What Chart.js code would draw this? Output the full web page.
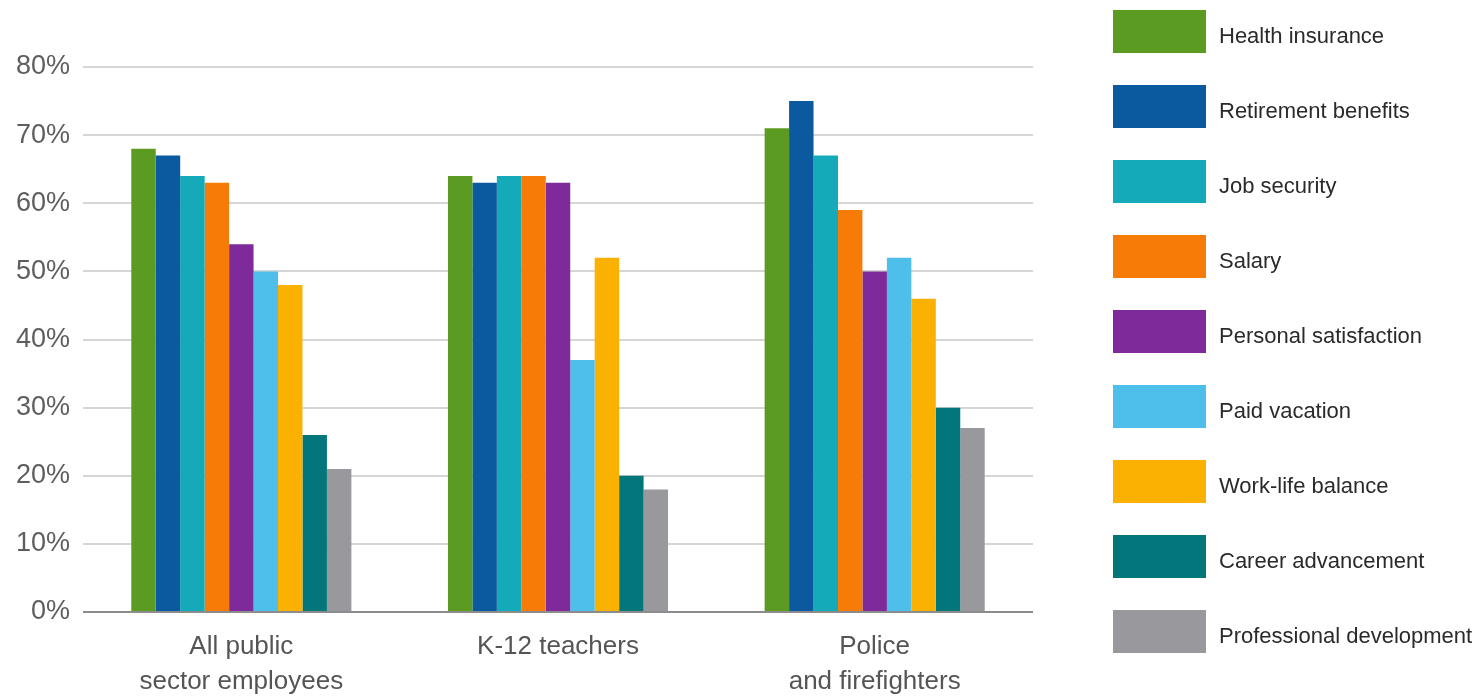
<!DOCTYPE html>
<html>
<head>
<meta charset="utf-8">
<script src="https://cdn.jsdelivr.net/npm/chart.js@4/dist/chart.umd.min.js"></script>
<style>
  html, body { margin: 0; padding: 0; background: #fff; }
  #wrap { position: relative; width: 1481px; height: 697px; }
  #legend {
    position: absolute; left: 1113px; top: 10px;
    font-family: "Liberation Sans", Arial, sans-serif; font-size: 22px; color: #2a2a2a;
  }
  .item { display: flex; align-items: center; height: 43px; margin-bottom: 32px; }
  .swatch { width: 93px; height: 43px; margin-right: 13px; flex: none; }
  .item span { position: relative; top: 4px; white-space: nowrap; }
</style>
</head>
<body>
<div id="wrap">
  <canvas id="myChart" width="1481" height="697"></canvas>
  <div id="legend"></div>
</div>
<script>
// groups on the x axis
const groups = [
  ['All public', 'sector employees'],
  ['K-12 teachers'],
  ['Police', 'and firefighters']
];

// one series per benefit, values in percent
const seriesNames = [
  'Health insurance', 'Retirement benefits', 'Job security', 'Salary',
  'Personal satisfaction', 'Paid vacation', 'Work-life balance',
  'Career advancement', 'Professional development'
];
const seriesColors = [
  '#5b9b21', '#0b5aa0', '#14aab9', '#f77c07', '#7e2a9b',
  '#4ebfea', '#fbb102', '#02767b', '#99989d'
];
const healthInsurance = [68, 64, 71];
const retirementBenefits = [67, 63, 75];
const jobSecurity = [64, 64, 67];
const salary = [63, 64, 59];
const personalSatisfaction = [54, 63, 50];
const paidVacation = [50, 37, 52];
const workLifeBalance = [48, 52, 46];
const careerAdvancement = [26, 20, 30];
const professionalDevelopment = [21, 18, 27];

const seriesValues = [
  healthInsurance, retirementBenefits, jobSecurity, salary, personalSatisfaction,
  paidVacation, workLifeBalance, careerAdvancement, professionalDevelopment
];

const yTicks = [0, 10, 20, 30, 40, 50, 60, 70, 80];

const datasets = seriesNames.map((name, i) => ({
  label: name,
  data: seriesValues[i],
  backgroundColor: seriesColors[i],
  borderWidth: 0,
  categoryPercentage: 0.695,
  barPercentage: 1.0
}));

const font = 'Liberation Sans, Arial, sans-serif';

new Chart(document.getElementById('myChart').getContext('2d'), {
  type: 'bar',
  data: { labels: groups, datasets: datasets },
  options: {
    responsive: false,
    animation: false,
    layout: { padding: { top: 67, right: 448, left: 0, bottom: 0 } },
    plugins: { legend: { display: false }, tooltip: { enabled: false } },
    scales: {
      x: {
        grid: { display: false },
        border: { display: false },
        ticks: {
          color: '#555',
          font: { family: font, size: 26, lineHeight: 1.33 },
          padding: 10,
          maxRotation: 0
        },
        afterFit: (scale) => { scale.height = 85; }
      },
      y: {
        min: 0,
        max: yTicks[yTicks.length - 1],
        afterBuildTicks: (scale) => { scale.ticks = yTicks.map(v => ({ value: v })); },
        grid: {
          drawTicks: false,
          lineWidth: 2,
          color: (ctx) => ctx.tick && ctx.tick.value === 0 ? '#8c8c8c' : '#d6d6d6'
        },
        border: { display: false },
        ticks: {
          color: '#5e5e5e',
          font: { family: font, size: 27 },
          padding: 13,
          callback: (v) => v + '%'
        },
        afterFit: (scale) => { scale.width = 83; }
      }
    }
  }
});

// legend swatches on the right
const legend = document.getElementById('legend');
seriesNames.forEach((name, i) => {
  const item = document.createElement('div');
  item.className = 'item';
  item.innerHTML = `<div class="swatch" style="background:${seriesColors[i]}"></div><span>${name}</span>`;
  legend.appendChild(item);
});
</script>
</body>
</html>
